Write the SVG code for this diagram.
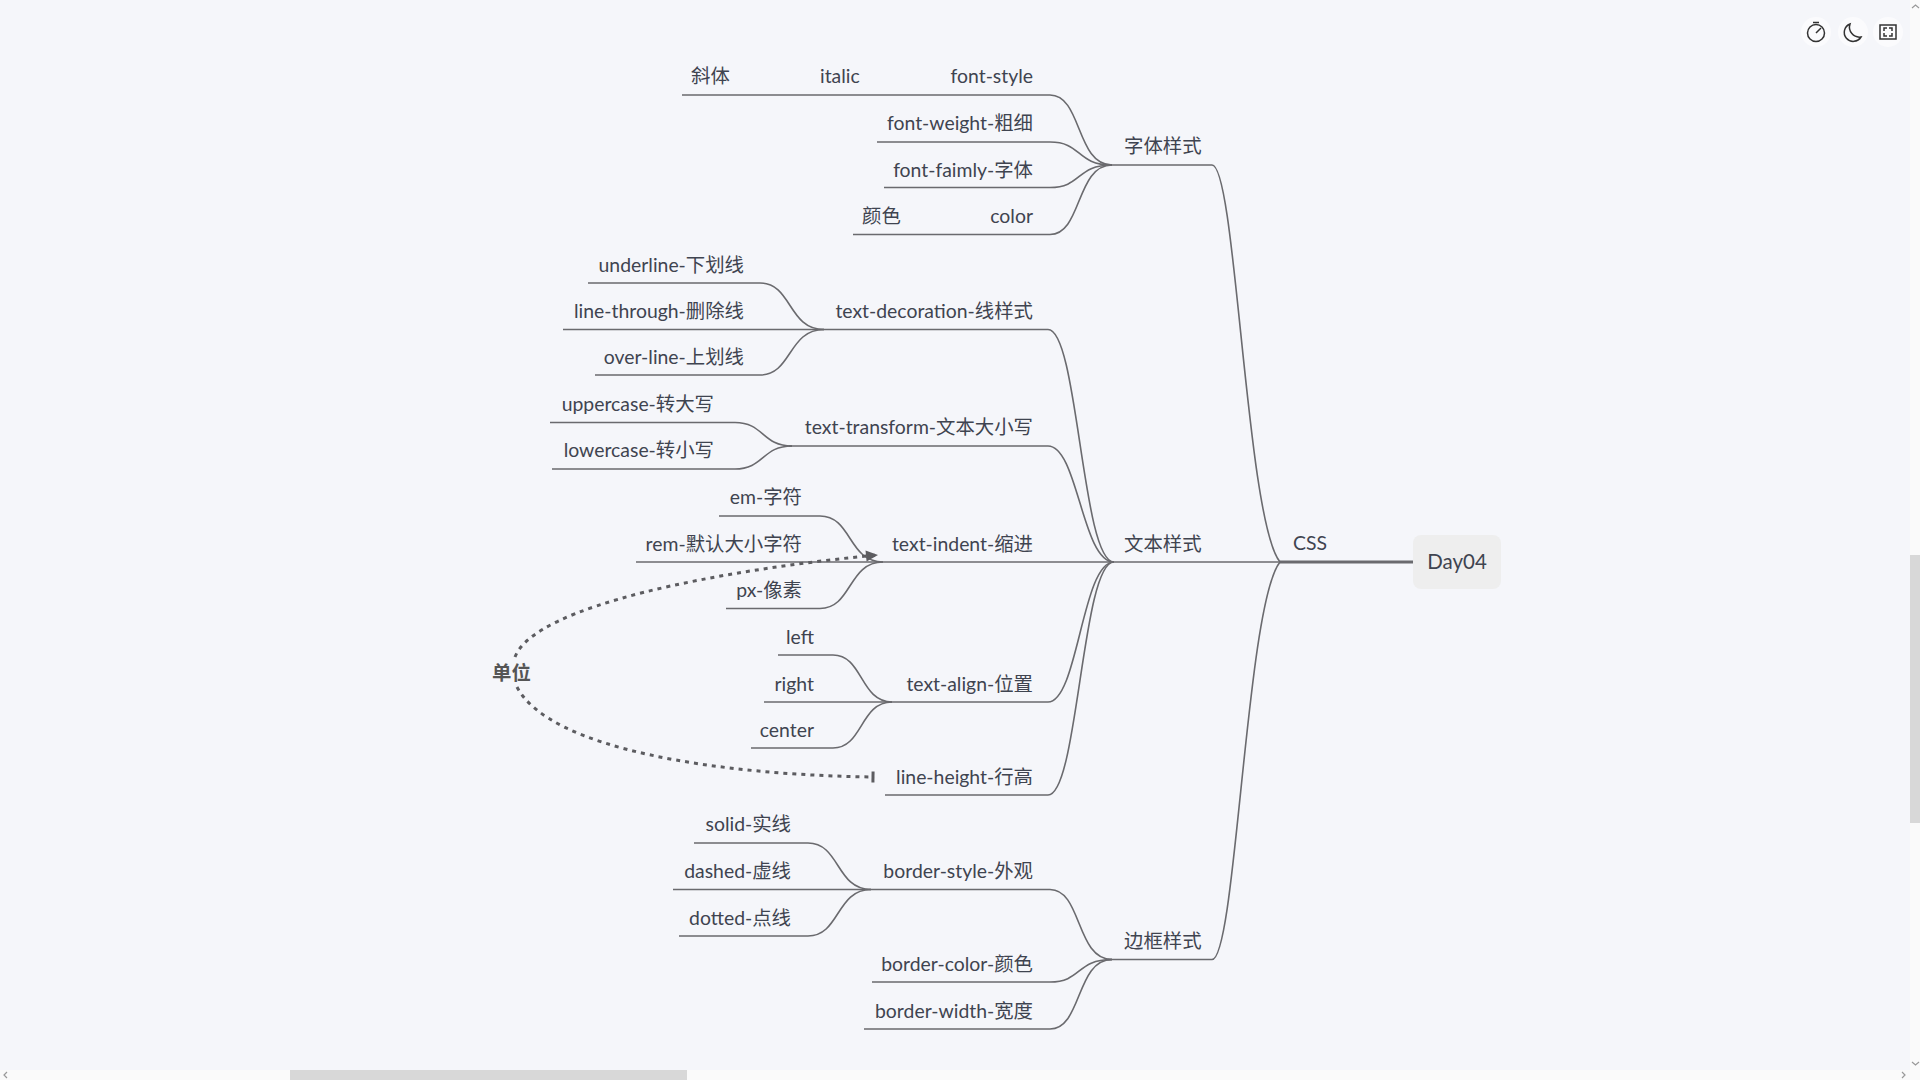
<svg xmlns="http://www.w3.org/2000/svg" width="1920" height="1080" viewBox="0 0 1920 1080">
<defs>
<style>
text{font-family:"Lato","Noto Sans CJK SC",sans-serif;font-size:19.4px;fill:#3f4450}
.e{text-anchor:end}
.m{text-anchor:middle}
.l{fill:none;stroke:#6a6a6e;stroke-width:1.6}
.d{fill:none;stroke:#5c5c60;stroke-width:3;stroke-dasharray:4 5}
.i{fill:none;stroke:#333;stroke-width:1.5}
</style>
<marker id="arr" markerUnits="userSpaceOnUse" markerWidth="14" markerHeight="14" refX="12" refY="7" orient="auto"><path d="M1 1.500L13 7L1 12.500Z" fill="#5c5c60"/></marker>
<marker id="bar" markerUnits="userSpaceOnUse" markerWidth="6" markerHeight="14" refX="3" refY="7" orient="auto"><path d="M3 1.500V12.500" stroke="#5c5c60" stroke-width="3"/></marker>
</defs>
<rect width="1920" height="1080" fill="#f5f6fa"/>
<g id="connectors">
<path class="l" style="stroke-width:3" d="M1280 562H1413"/>
<path class="l" d="M1108 165H1212C1236 165 1246 520 1280 562"/>
<path class="l" d="M1112 562H1280"/>
<path class="l" d="M1108 959.500H1212C1236 959.500 1246 604 1280 562"/>
<path class="l" d="M682 95H1050C1082 95 1076 165 1112 165"/>
<path class="l" d="M877 142H1050C1082 142 1076 165 1112 165"/>
<path class="l" d="M884 187.500H1050C1082 187.500 1076 165 1112 165"/>
<path class="l" d="M853 234.500H1050C1082 234.500 1076 165 1112 165"/>
<path class="l" d="M820 329.500H1048C1078 329.500 1082 562 1114 562"/>
<path class="l" d="M789 446H1048C1078 446 1082 562 1114 562"/>
<path class="l" d="M879 562H1112"/>
<path class="l" d="M888 702H1048C1078 702 1082 562 1114 562"/>
<path class="l" d="M885 795H1048C1078 795 1082 562 1114 562"/>
<path class="l" d="M867 889.500H1050C1082 889.500 1076 959.500 1112 959.500"/>
<path class="l" d="M872 982H1050C1082 982 1076 959.500 1112 959.500"/>
<path class="l" d="M864 1029H1050C1082 1029 1076 959.500 1112 959.500"/>
<path class="l" d="M588 283H760C792 283 788 329.500 824 329.500"/>
<path class="l" d="M563 329.500H820"/>
<path class="l" d="M595 375H760C792 375 788 329.500 824 329.500"/>
<path class="l" d="M550 422.500H735C764 422.500 762 446 792 446"/>
<path class="l" d="M552 469H735C764 469 762 446 792 446"/>
<path class="l" d="M719 516H820C852 516 848 562 883 562"/>
<path class="l" d="M636 562H879"/>
<path class="l" d="M726 608.500H820C852 608.500 848 562 883 562"/>
<path class="l" d="M778 655H833C863 655 860 702 892 702"/>
<path class="l" d="M764 702H888"/>
<path class="l" d="M751 748H833C863 748 860 702 892 702"/>
<path class="l" d="M694 843H808C840 843 836 889.500 871 889.500"/>
<path class="l" d="M673 889.500H867"/>
<path class="l" d="M679 936H808C840 936 836 889.500 871 889.500"/>
<path class="d" marker-end="url(#arr)" d="M515 657C535 605 720 570 877 555"/>
<path class="d" marker-end="url(#bar)" d="M517 687C550 750 720 775 873 777"/>
</g>
<g id="root"><rect x="1413" y="535" width="88" height="54" rx="8" fill="#eeeeee"/><text class="m" x="1457" y="569" style="font-size:20.500px">Day04</text></g>
<g id="css"><text x="1293" y="550">CSS</text></g>
<g id="n-font"><text x="1124" y="153">字体样式</text></g>
<g id="n-text"><text x="1124" y="551">文本样式</text></g>
<g id="n-border"><text x="1124" y="948">边框样式</text></g>
<g id="n1"><text class="e" x="1033" y="83">font-style</text></g>
<g id="n2"><text x="820" y="83">italic</text></g>
<g id="n3"><text x="691" y="83">斜体</text></g>
<g id="n4"><text class="e" x="1033" y="130">font-weight-粗细</text></g>
<g id="n5"><text class="e" x="1033" y="177">font-faimly-字体</text></g>
<g id="n6"><text class="e" x="1033" y="223">color</text></g>
<g id="n7"><text x="862" y="223">颜色</text></g>
<g id="n8"><text class="e" x="1033" y="318">text-decoration-线样式</text></g>
<g id="n9"><text class="e" x="744" y="271.500">underline-下划线</text></g>
<g id="n10"><text class="e" x="744" y="318">line-through-删除线</text></g>
<g id="n11"><text class="e" x="744" y="364">over-line-上划线</text></g>
<g id="n12"><text class="e" x="1033" y="434">text-transform-文本大小写</text></g>
<g id="n13"><text class="e" x="714" y="411">uppercase-转大写</text></g>
<g id="n14"><text class="e" x="714" y="457">lowercase-转小写</text></g>
<g id="n15"><text class="e" x="1033" y="551">text-indent-缩进</text></g>
<g id="n16"><text class="e" x="802" y="504">em-字符</text></g>
<g id="n17"><text class="e" x="802" y="551">rem-默认大小字符</text></g>
<g id="n18"><text class="e" x="802" y="597">px-像素</text></g>
<g id="n19"><text class="e" x="1033" y="690.500">text-align-位置</text></g>
<g id="n20"><text class="e" x="814" y="644">left</text></g>
<g id="n21"><text class="e" x="814" y="690.500">right</text></g>
<g id="n22"><text class="e" x="814" y="737">center</text></g>
<g id="n23"><text class="e" x="1033" y="783.500">line-height-行高</text></g>
<g id="n24"><text class="e" x="1033" y="878">border-style-外观</text></g>
<g id="n25"><text class="e" x="791" y="831">solid-实线</text></g>
<g id="n26"><text class="e" x="791" y="878">dashed-虚线</text></g>
<g id="n27"><text class="e" x="791" y="925">dotted-点线</text></g>
<g id="n28"><text class="e" x="1033" y="971">border-color-颜色</text></g>
<g id="n29"><text class="e" x="1033" y="1018">border-width-宽度</text></g>
<g id="unit"><text x="492" y="680" style="font-weight:700;fill:#555">单位</text></g>
<g id="icons">
<circle cx="1816" cy="32" r="15" fill="#fbfbfd"/><circle cx="1853" cy="32" r="15" fill="#fbfbfd"/><circle cx="1888" cy="32" r="15" fill="#fbfbfd"/>
<circle class="i" cx="1816" cy="33" r="8.500"/><path class="i" d="M1813 22.500H1819M1816 33L1821 28"/>
<path class="i" d="M1850 24A9 9 0 1 0 1861 37A10 10 0 0 1 1850 24Z"/>
<rect class="i" x="1880" y="25" width="16" height="14"/><path class="i" d="M1884 31V28H1887M1889 28H1892V31M1892 33V36H1889M1887 36H1884V33"/>
</g>
<g id="scrollbars">
<rect x="0" y="1070" width="1920" height="10" fill="#fafafa"/>
<rect x="1910" y="0" width="10" height="1080" fill="#fafafa"/>
<rect x="290" y="1070" width="397" height="10" fill="#d8d8d8"/>
<rect x="1910" y="555" width="10" height="268" fill="#d8d8d8"/>
<path d="M7 1072L4 1075L7 1078M1902 1072L1905 1075L1902 1078M1912 8L1915.500 5L1919 8M1912 1062L1915.500 1065L1919 1062" fill="none" stroke="#999" stroke-width="1.200"/>
</g>
</svg>
